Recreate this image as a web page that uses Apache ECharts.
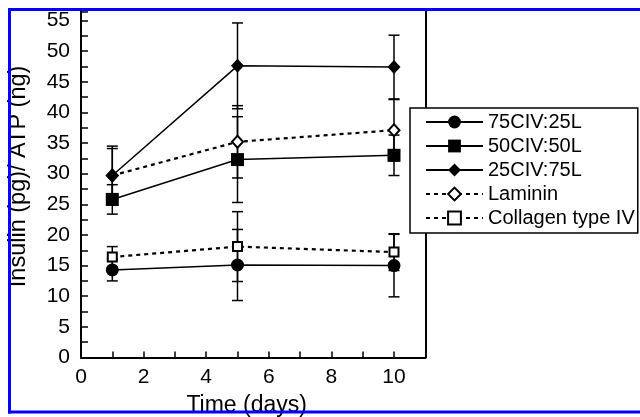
<!DOCTYPE html>
<html><head><meta charset="utf-8">
<script src="https://cdn.jsdelivr.net/npm/echarts@6/dist/echarts.min.js"></script>
<style>html,body{margin:0;padding:0;background:#fff}#c{width:640px;height:417px}</style>
</head><body><div id="c"></div>
<script>
const days = [1, 5, 10];
const seriesNames = ['75CIV:25L', '50CIV:50L', '25CIV:75L', 'Laminin', 'Collagen type IV'];
const civ75 = [14.3, 15.1, 15.0];
const civ75Err = [1.8, 5.8, 5.1];
const civ50 = [25.8, 32.3, 33.0];
const civ50Err = [2.4, 7.0, 3.3];
const civ25 = [29.7, 47.6, 47.4];
const civ25Err = [4.8, 7.0, 5.2];
const laminin = [29.7, 35.2, 37.1];
const lamininErr = [4.4, 5.9, 5.0];
const collagen = [16.4, 18.1, 17.2];
const collagenErr = [1.7, 5.7, 3.0];
const xTickLabels = [0, 2, 4, 6, 8, 10];
const yTickLabels = [0, 5, 10, 15, 20, 25, 30, 35, 40, 45, 50, 55];

const FONT = 'Liberation Sans, Arial, sans-serif';
const BLACK = '#000';

function pts(vals) { return days.map((d, i) => [d, vals[i]]); }

function errSeries(vals, errs, z) {
  return {
    type: 'custom', silent: true, z: z, clip: false,
    data: days.map((d, i) => [d, vals[i] - errs[i], vals[i] + errs[i]]),
    encode: { x: 0, y: [1, 2] },
    renderItem: function (params, api) {
      const lo = api.coord([api.value(0), api.value(1)]);
      const hi = api.coord([api.value(0), api.value(2)]);
      const hw = 5.5;
      const st = { stroke: BLACK, lineWidth: 1.5 };
      return { type: 'group', children: [
        { type: 'line', shape: { x1: lo[0], y1: lo[1], x2: hi[0], y2: hi[1] }, style: st },
        { type: 'line', shape: { x1: lo[0] - hw, y1: lo[1], x2: lo[0] + hw, y2: lo[1] }, style: st },
        { type: 'line', shape: { x1: hi[0] - hw, y1: hi[1], x2: hi[0] + hw, y2: hi[1] }, style: st }
      ]};
    }
  };
}

function lineSeries(name, vals, symbol, size, dashed, z) {
  return {
    type: 'line', name: name, data: pts(vals), z: z,
    symbol: symbol, symbolSize: size,
    itemStyle: { color: BLACK, borderWidth: dashed ? 1.5 : 0 },
    lineStyle: { color: BLACK, width: dashed ? 2.2 : 1.5, type: dashed ? [4, 4] : 'solid' },
    emphasis: { disabled: true }
  };
}

const chart = echarts.init(document.getElementById('c'), null, { renderer: 'canvas' });
chart.setOption({
  animation: false,
  backgroundColor: '#fff',
  grid: { left: 81, right: 214.7, top: 11.3, bottom: 59.5, containLabel: false, outerBoundsMode: 'none' },
  xAxis: {
    type: 'value', min: 0, max: 11, interval: 1,
    name: 'Time (days)', nameLocation: 'middle', nameGap: 37,
    nameTextStyle: { fontSize: 23, color: BLACK, fontFamily: FONT, padding: [0, 13, 0, 0] },
    axisLine: { show: true, lineStyle: { color: BLACK, width: 2 } },
    axisTick: { show: true, inside: true, length: 6, lineStyle: { color: BLACK, width: 1.5 } },
    axisLabel: { fontSize: 21, color: BLACK, fontFamily: FONT, margin: 9,
      formatter: v => xTickLabels.indexOf(v) >= 0 ? String(v) : '' },
    splitLine: { show: false }
  },
  yAxis: [{
    type: 'value', min: 0, max: 56.5, interval: 2.5,
    name: 'Insulin (pg)/ ATP (ng)', nameLocation: 'middle', nameGap: 50,
    nameTextStyle: { fontSize: 23.5, color: BLACK, fontFamily: FONT, padding: [0, 0, 0, 16] },
    axisLine: { show: true, lineStyle: { color: BLACK, width: 2 } },
    axisTick: { show: true, inside: true, length: 7, lineStyle: { color: BLACK, width: 1.5 } },
    axisLabel: { fontSize: 21, color: BLACK, fontFamily: FONT, margin: 11, padding: [7, 0, 0, 0],
      formatter: v => yTickLabels.indexOf(v) >= 0 ? String(v) : '' },
    splitLine: { show: false }
  }, {
    type: 'value', position: 'right', min: 0, max: 1,
    axisLine: { show: true, lineStyle: { color: BLACK, width: 2 } },
    axisTick: { show: false }, axisLabel: { show: false }, splitLine: { show: false }
  }],
  legend: {
    orient: 'vertical', left: 410, top: 108,
    data: seriesNames,
    itemWidth: 57, itemHeight: 16, itemGap: 4,
    padding: [4, 3, 5, 15],
    borderColor: BLACK, borderWidth: 1.5, backgroundColor: '#fff',
    textStyle: { fontSize: 20, color: BLACK, fontFamily: FONT, lineHeight: 20 },
    selectedMode: false, z: 10
  },
  series: [
    errSeries(civ75, civ75Err, 1),
    errSeries(civ50, civ50Err, 1),
    errSeries(civ25, civ25Err, 1),
    errSeries(laminin, lamininErr, 1),
    errSeries(collagen, collagenErr, 1),
    lineSeries(seriesNames[3], laminin, 'emptyDiamond', [11, 12], true, 2),
    lineSeries(seriesNames[4], collagen, 'emptyRect', 9, true, 2),
    lineSeries(seriesNames[0], civ75, 'circle', 13, false, 3),
    lineSeries(seriesNames[1], civ50, 'rect', 13, false, 3),
    lineSeries(seriesNames[2], civ25, 'diamond', [13, 14], false, 3)
  ],
  graphic: [
    { type: 'line', z: 100, shape: { x1: 8, y1: 9.5, x2: 640, y2: 9.5 }, style: { stroke: '#0000ff', lineWidth: 3 } },
    { type: 'line', z: 100, shape: { x1: 9.5, y1: 8, x2: 9.5, y2: 413.5 }, style: { stroke: '#0000ff', lineWidth: 3 } },
    { type: 'line', z: 100, shape: { x1: 8, y1: 412, x2: 640, y2: 412 }, style: { stroke: '#0000ff', lineWidth: 3 } }
  ]
});
</script>
</body></html>
